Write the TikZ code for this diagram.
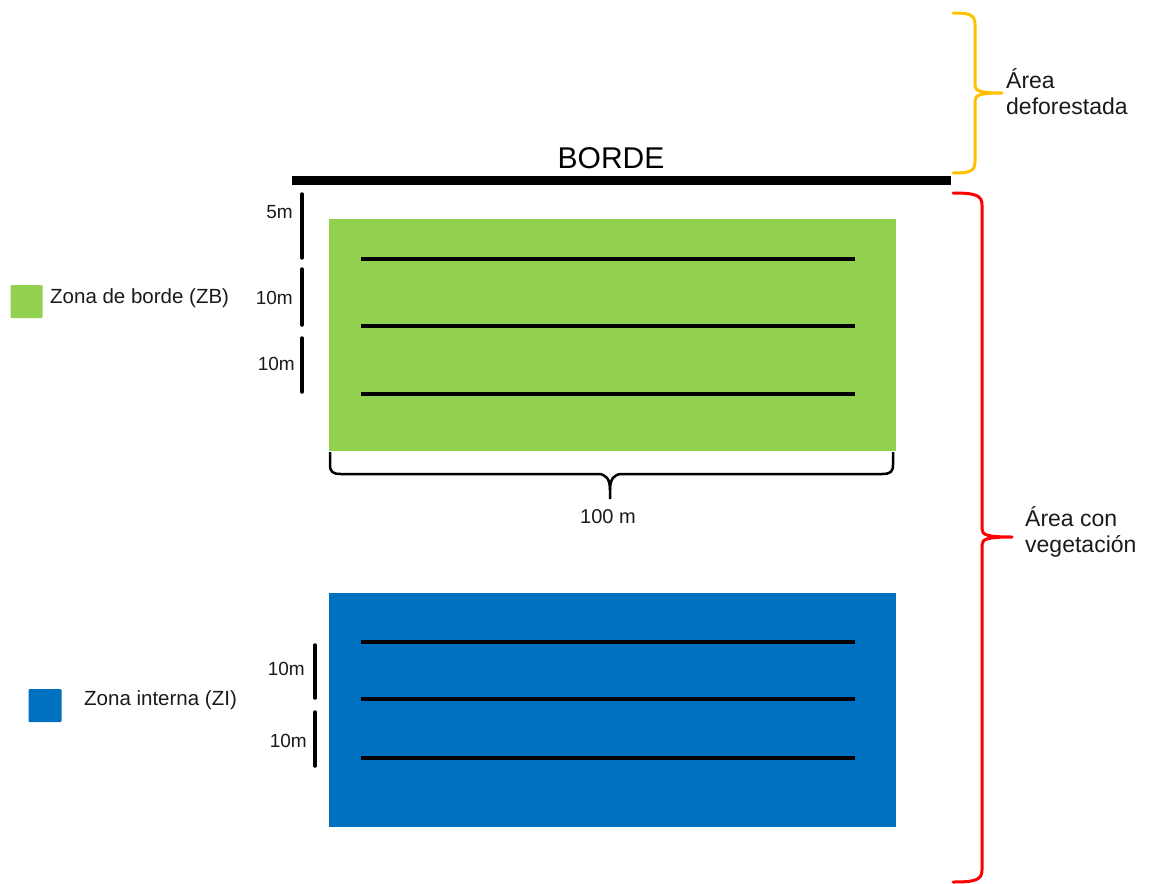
\documentclass[tikz,border=0pt]{standalone}
\usepackage{fontspec}
\setmainfont{Liberation Sans}
\definecolor{zbgreen}{HTML}{92D050}
\definecolor{ziblue}{HTML}{0070C0}
\definecolor{braceyellow}{HTML}{FFC000}
\definecolor{bracered}{HTML}{FF0000}
\definecolor{txtgray}{HTML}{1A1A1A}
\begin{document}
\begin{tikzpicture}[x=1pt,y=-1pt,
  transect/.style={line width=3.2pt,black},
  scalebar/.style={line width=3.5pt,black,line cap=round},
  smalltxt/.style={font=\fontsize{19}{21}\selectfont,text=txtgray,inner sep=0pt},
  legtxt/.style={font=\fontsize{20.5}{22}\selectfont,text=txtgray,inner sep=0pt,anchor=west},
  sidetxt/.style={font=\fontsize{23}{26}\selectfont,text=txtgray,inner sep=0pt,anchor=west,align=left},
  bracepath/.style={line width=3pt,line cap=round,line join=round}]
\useasboundingbox (0,0) rectangle (1152,884);

% edge line and its title
\fill[black] (292,176) rectangle (951,185);
\node[font=\fontsize{30}{32}\selectfont,inner sep=0pt] (borde) at (611,158) {BORDE};

% edge zone plot
\fill[zbgreen] (329,219) rectangle (896,451);
\coordinate (zbl1) at (361,259); \coordinate (zbr1) at (855,259);
\coordinate (zbl2) at (361,326); \coordinate (zbr2) at (855,326);
\coordinate (zbl3) at (361,394); \coordinate (zbr3) at (855,394);
\draw[transect] (zbl1) -- (zbr1);
\draw[transect] (zbl2) -- (zbr2);
\draw[transect] (zbl3) -- (zbr3);

% inner zone plot
\fill[ziblue] (329,593) rectangle (896,827);
\coordinate (zil1) at (361,642); \coordinate (zir1) at (855,642);
\coordinate (zil2) at (361,699); \coordinate (zir2) at (855,699);
\coordinate (zil3) at (361,758); \coordinate (zir3) at (855,758);
\draw[transect] (zil1) -- (zir1);
\draw[transect] (zil2) -- (zir2);
\draw[transect] (zil3) -- (zir3);

% distance bars beside the edge zone
\coordinate (b1a) at (302,194); \coordinate (b1b) at (302,258);
\coordinate (b2a) at (302,269); \coordinate (b2b) at (302,325);
\coordinate (b3a) at (302,338); \coordinate (b3b) at (302,392);
\draw[scalebar] (b1a) -- (b1b);
\draw[scalebar] (b2a) -- (b2b);
\draw[scalebar] (b3a) -- (b3b);
\node[smalltxt,anchor=east] (d5) at (293,212) {5m};
\node[smalltxt,anchor=east] (d10a) at (293,298) {10m};
\node[smalltxt,anchor=east] (d10b) at (295,364) {10m};

% distance bars beside the inner zone
\coordinate (b4a) at (315,645); \coordinate (b4b) at (315,698);
\coordinate (b5a) at (315,712); \coordinate (b5b) at (315,766);
\draw[scalebar] (b4a) -- (b4b);
\draw[scalebar] (b5a) -- (b5b);
\node[smalltxt,anchor=east] (d10c) at (305,669) {10m};
\node[smalltxt,anchor=east] (d10d) at (307,741) {10m};

% width of the plot
\draw[line width=2.5pt,line join=round]
  (330,452) -- (330,465) .. controls (330,472) and (333,474) .. (341,474)
  -- (598,474) .. controls (606,474) and (610,479) .. (610,490) -- (610,499);
\draw[line width=2.5pt,line join=round]
  (893,452) -- (893,465) .. controls (893,472) and (890,474) .. (882,474)
  -- (622,474) .. controls (614,474) and (610,479) .. (610,490);
\node[smalltxt,font=\fontsize{20}{22}\selectfont] (w100) at (608,517) {100 m};

% legend
\node[fill=zbgreen,minimum width=32pt,minimum height=33pt,inner sep=0pt,rounded corners=1pt] (legzb) at (26.5,301.5) {};
\node[legtxt] (legzbt) at (50,298) {Zona de borde (ZB)};
\node[fill=ziblue,minimum width=33pt,minimum height=33pt,inner sep=0pt,rounded corners=1pt] (legzi) at (45,705.5) {};
\node[legtxt] (legzit) at (84,700) {Zona interna (ZI)};

% deforested area brace
\draw[bracepath,braceyellow]
  (953,13) .. controls (968,13) and (975,14) .. (975,24) -- (975,85)
  .. controls (975,91) and (980,93) .. (1002,93)
  .. controls (980,93) and (975,95) .. (975,101) -- (975,162)
  .. controls (975,172) and (968,173) .. (953,173);
\node[sidetxt] (defor) at (1006,92) {Área\\deforestada};

% vegetated area brace
\draw[bracepath,bracered]
  (953,193) .. controls (975,193) and (982,195) .. (982,205) -- (982,529)
  .. controls (982,535) and (987,537) .. (1012,537)
  .. controls (987,537) and (982,539) .. (982,545) -- (982,870)
  .. controls (982,880) and (975,882) .. (953,882);
\node[sidetxt] (veget) at (1025,532) {Área con\\vegetación};
\end{tikzpicture}
\end{document}
